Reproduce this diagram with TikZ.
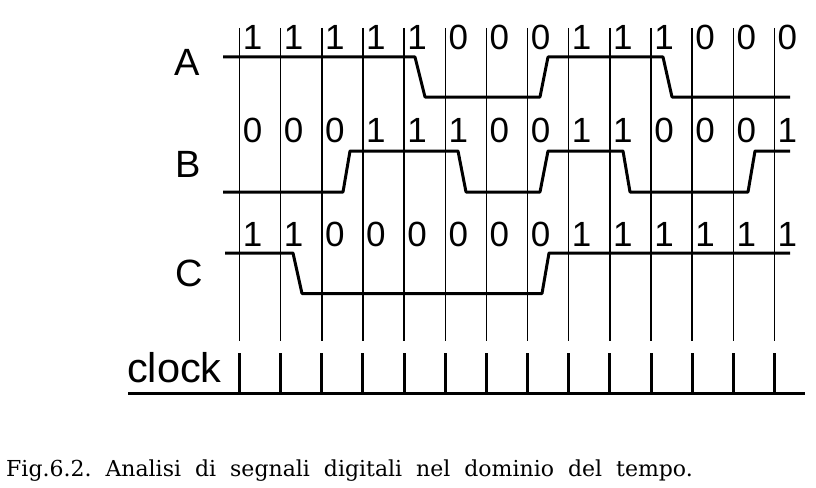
\documentclass[tikz,border=0pt]{standalone}
\usepackage{fontspec}
\setmainfont{Liberation Sans}
\newfontfamily\capfont{DejaVu Serif}
\begin{document}
\begin{tikzpicture}[x=1pt,y=-1pt,
  grid/.style={line width=1.5pt,black},
  sig/.style={line width=3pt,black,line join=round},
  tick/.style={line width=3pt,black},
  digit/.style={font=\fontsize{35}{35}\selectfont,inner sep=0pt,anchor=base},
  lbl/.style={font=\fontsize{38}{38}\selectfont,inner sep=0pt,anchor=base},
  capt/.style={font=\capfont\fontsize{22}{22}\selectfont,inner sep=0pt,anchor=base west}]
\useasboundingbox (0,0) rectangle (816,487);
% grid lines and clock ticks
\foreach \i in {0,...,13}{
  \pgfmathsetmacro{\xx}{239.5+41.15*\i}
  \coordinate (gt\i) at (\xx,28);
  \coordinate (gb\i) at (\xx,341);
  \coordinate (ct\i) at (\xx,353);
  \coordinate (cb\i) at (\xx,393);
  \draw[grid] (gt\i) -- (gb\i);
  \draw[tick] (ct\i) -- (cb\i);
}
% clock baseline
\coordinate (bl) at (128,393);
\coordinate (br) at (805,393);
\draw[tick] (bl) -- (br);
% digits
\foreach \d [count=\n from 0] in {1,1,1,1,1,0,0,0,1,1,1,0,0,0}{
  \node[digit] (da\n) at (239.5+41.15*\n+13,49.5) {\d};}
\foreach \d [count=\n from 0] in {0,0,0,1,1,1,0,0,1,1,0,0,0,1}{
  \node[digit] (db\n) at (239.5+41.15*\n+13,142.5) {\d};}
\foreach \d [count=\n from 0] in {1,1,0,0,0,0,0,0,1,1,1,1,1,1}{
  \node[digit] (dc\n) at (239.5+41.15*\n+13,246) {\d};}
% signal labels
\node[lbl] (la) at (187,75) {A};
\node[lbl] (lb) at (188,177) {B};
\node[lbl] (lc) at (189,286.5) {C};
\node[lbl,anchor=base west,font=\fontsize{41.5}{41.5}\selectfont] (lclk) at (127,382) {clock};
% signal A
\draw[sig] (223,57) -- (415,57) -- (425,97) -- (540,97) -- (548,57) -- (663,57) -- (672,97) -- (790,97);
% signal B
\draw[sig] (223,192) -- (343,192) -- (350,151) -- (458,151) -- (466,192) -- (540,192) -- (548,151) -- (623,151) -- (630,192) -- (748,192) -- (755,151) -- (790,151);
% signal C
\draw[sig] (225,253) -- (293,253) -- (302,293.5) -- (542,293.5) -- (549,253) -- (790,253);
% caption
\node[capt] (cap) at (6,476.5) {Fig.6.2.\ \ Analisi\ \ di\ \ segnali\ \ digitali\ \ nel\ \ dominio\ \ del\ \ tempo.};
\end{tikzpicture}
\end{document}
